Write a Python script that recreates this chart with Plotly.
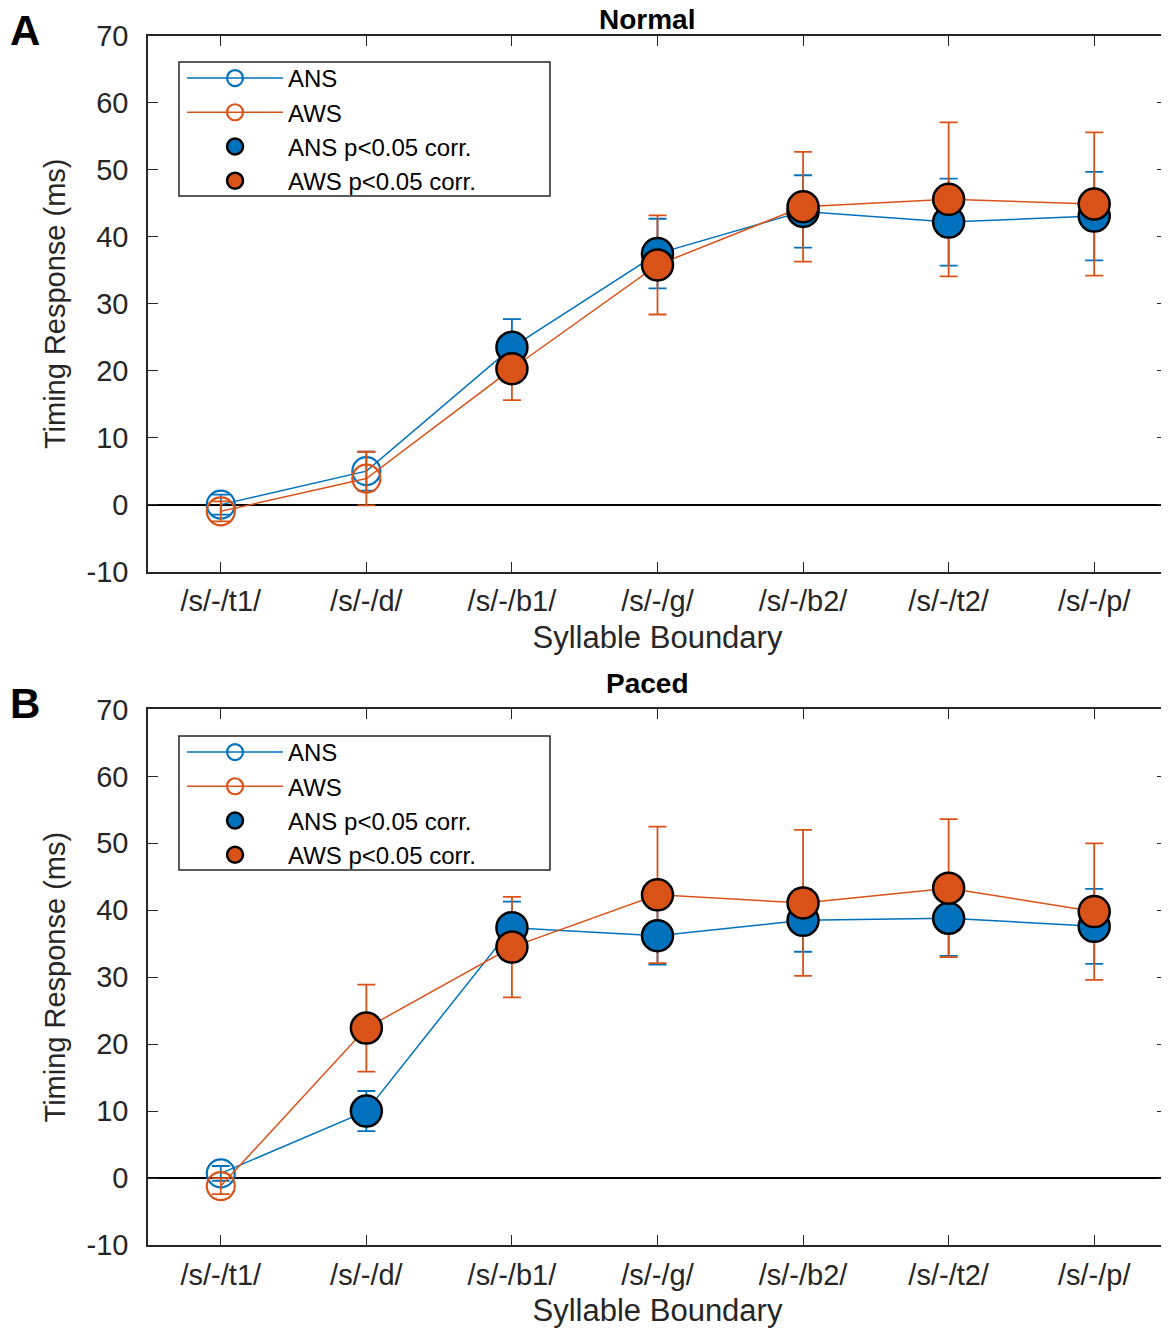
import plotly.graph_objects as go
from plotly.subplots import make_subplots

# --- Data ---
boundaries = ["/s/-/t1/", "/s/-/d/", "/s/-/b1/", "/s/-/g/", "/s/-/b2/", "/s/-/t2/", "/s/-/p/"]
y_ticks = [-10, 0, 10, 20, 30, 40, 50, 60, 70]
y_ticklabels = ["-10", "0", "10", "20", "30", "40", "50", "60", "70"]

# Normal speech
ans_normal = [0.0, 5.0, 23.5, 37.5, 43.8, 42.2, 43.1]
ans_normal_err = [1.5, 2.9, 4.2, 5.2, 5.4, 6.5, 6.6]
aws_normal = [-1.0, 3.9, 20.3, 35.8, 44.5, 45.6, 44.9]
aws_normal_err = [1.5, 4.0, 4.7, 7.4, 8.2, 11.5, 10.7]
sig_normal = [False, False, True, True, True, True, True]

# Paced speech
ans_paced = [0.7, 10.0, 37.4, 36.2, 38.5, 38.8, 37.6]
ans_paced_err = [1.1, 3.0, 3.9, 4.3, 4.7, 5.6, 5.6]
aws_paced = [-1.2, 22.4, 34.5, 42.3, 41.1, 43.3, 39.8]
aws_paced_err = [1.2, 6.5, 7.5, 10.2, 10.9, 10.3, 10.2]
sig_paced = [False, True, True, True, True, True, True]

BLUE = "#0072BD"
ORANGE = "#D95319"
AXCOL = "#262626"
FONT = "Liberation Sans, Arial, Helvetica, sans-serif"

fig = make_subplots(rows=2, cols=1, vertical_spacing=0.114)


def add_panel(row, legend, ans, ans_err, aws, aws_err, sig):
    # open-marker lines with error bars
    for name, y, err, col in [("ANS", ans, ans_err, BLUE), ("AWS", aws, aws_err, ORANGE)]:
        fig.add_trace(go.Scatter(
            x=boundaries, y=y, name=name, mode="lines+markers", legend=legend,
            line=dict(color=col, width=1.5),
            marker=dict(symbol="circle-open", size=28, color=col, line=dict(width=2.2)),
            error_y=dict(type="data", array=err, color=col, thickness=1.8, width=9),
        ), row=row, col=1)
    # filled markers where significant
    for name, y, col in [("ANS p<0.05 corr.", ans, BLUE), ("AWS p<0.05 corr.", aws, ORANGE)]:
        ys = [v if s else None for v, s in zip(y, sig)]
        fig.add_trace(go.Scatter(
            x=boundaries, y=ys, name=name, mode="markers", legend=legend,
            marker=dict(symbol="circle", size=31, color=col, line=dict(color="black", width=2.5)),
        ), row=row, col=1)


add_panel(1, "legend", ans_normal, ans_normal_err, aws_normal, aws_normal_err, sig_normal)
add_panel(2, "legend2", ans_paced, ans_paced_err, aws_paced, aws_paced_err, sig_paced)

axis_common = dict(
    showline=True, linecolor=AXCOL, linewidth=1.5, mirror="ticks",
    ticks="inside", ticklen=10, tickwidth=1.3, tickcolor=AXCOL,
    showgrid=False, automargin=False,
    tickfont=dict(family=FONT, size=29, color=AXCOL),
)
fig.update_xaxes(**axis_common, range=[-0.5, 6.5], ticklabelstandoff=3,
                 title=dict(text="Syllable Boundary", standoff=10,
                            font=dict(family=FONT, size=31, color=AXCOL)))
fig.update_yaxes(**axis_common, range=[-10, 70], tickvals=y_ticks, ticktext=y_ticklabels,
                 zeroline=True, zerolinecolor="black", zerolinewidth=1.5,
                 ticklabelstandoff=12,
                 title=dict(text="Timing Response (ms)", standoff=12,
                            font=dict(family=FONT, size=29, color=AXCOL)))

legend_style = dict(
    x=0.0334, xanchor="left", yanchor="top",
    bgcolor="rgba(0,0,0,0)", borderwidth=0,
    font=dict(family=FONT, size=24, color="black"),
    itemwidth=96, tracegroupgap=0,
)

# legend frames (MATLAB-style boxes, wider than plotly's own)
legend_box = dict(type="rect", xref="paper", yref="paper", layer="below",
                  line=dict(color=AXCOL, width=1.5), fillcolor="white",
                  x0=0.0304, x1=0.3945)

# the page body adds an 8 px offset, so the figure is laid out 8 px up/left
fig.update_layout(
    width=1161, height=1322,
    margin=dict(l=140, r=2, t=28, b=85),
    plot_bgcolor="white", paper_bgcolor="white",
    legend=dict(**legend_style, y=0.9835),
    legend2=dict(**legend_style, y=0.4260),
    shapes=[dict(**legend_box, y0=0.8677, y1=0.9785),
            dict(**legend_box, y0=0.3102, y1=0.4210)],
    annotations=[
        dict(text="<b>Normal</b>", x=0.4897, y=1.0, xref="paper", yref="paper",
             xanchor="center", yanchor="top", yshift=34, showarrow=False,
             font=dict(family=FONT, size=28, color="black")),
        dict(text="<b>Paced</b>", x=0.4897, y=0.443, xref="paper", yref="paper",
             xanchor="center", yanchor="bottom", yshift=8, showarrow=False,
             font=dict(family=FONT, size=28, color="black")),
        dict(text="<b>A</b>", x=-0.1374, y=1.0, xref="paper", yref="paper",
             xanchor="left", yanchor="middle", yshift=6, showarrow=False,
             font=dict(family=FONT, size=42, color="black")),
        dict(text="<b>B</b>", x=-0.1374, y=0.443, xref="paper", yref="paper",
             xanchor="left", yanchor="middle", yshift=6, showarrow=False,
             font=dict(family=FONT, size=42, color="black")),
    ],
)

fig.write_html("out.html")
